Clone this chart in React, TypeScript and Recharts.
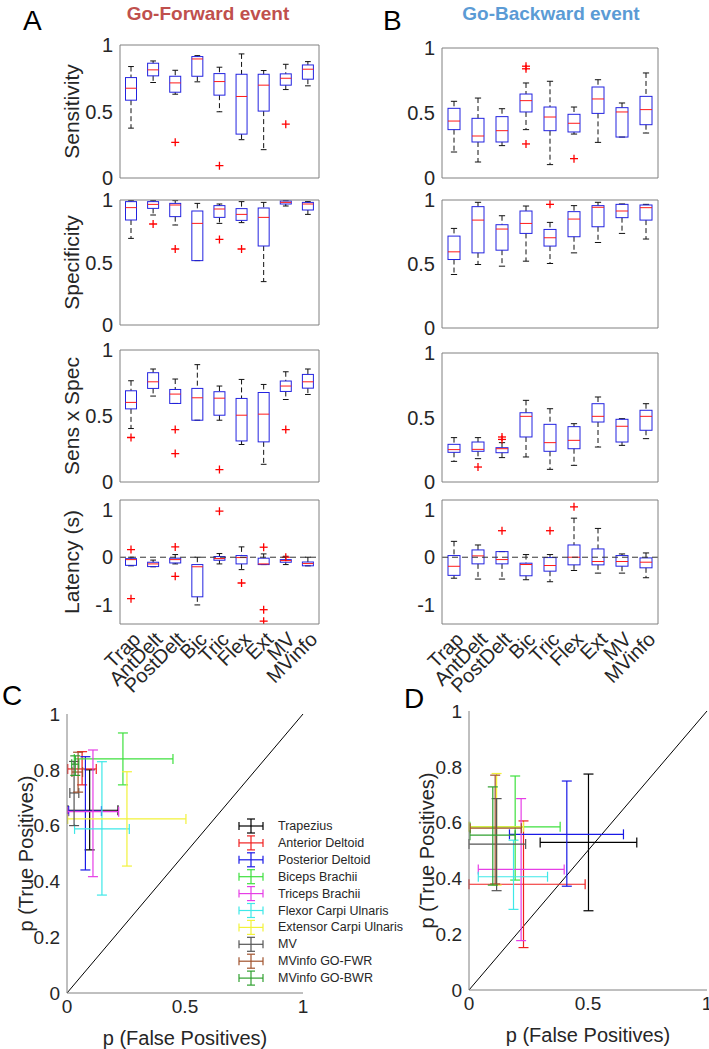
import {
  Bar,
  ComposedChart,
  ErrorBar,
  ReferenceLine,
  Scatter,
  ScatterChart,
  XAxis,
  YAxis,
} from "recharts";

const FONT = "'Liberation Sans', Arial, Helvetica, sans-serif";
const INK = "#262626";
const FRAME = "#808080";

const muscles = ["Trap", "AntDelt", "PostDelt", "Bic", "Tric", "Flex", "Ext", "MV", "MVinfo"];

// box stats per muscle: [min, q1, median, q3, max]
const fwdSensitivity = [
  [0.375, 0.585, 0.675, 0.755, 0.838],
  [0.718, 0.768, 0.813, 0.863, 0.88],
  [0.63, 0.645, 0.715, 0.765, 0.81],
  [0.723, 0.765, 0.895, 0.913, 0.92],
  [0.498, 0.623, 0.725, 0.785, 0.833],
  [0.288, 0.33, 0.613, 0.78, 0.933],
  [0.213, 0.503, 0.698, 0.78, 0.808],
  [0.665, 0.698, 0.75, 0.783, 0.855],
  [0.693, 0.743, 0.818, 0.85, 0.875],
];
const fwdSensitivityOut = [[], [], [0.268], [], [0.093], [], [], [0.405], []];

const fwdSpecificity = [
  [0.693, 0.84, 0.939, 0.987, 0.995],
  [0.88, 0.933, 0.965, 0.987, 0.995],
  [0.8, 0.867, 0.96, 0.973, 0.995],
  [0.515, 0.515, 0.813, 0.912, 0.973],
  [0.813, 0.861, 0.928, 0.955, 0.968],
  [0.819, 0.837, 0.885, 0.931, 0.987],
  [0.347, 0.632, 0.861, 0.936, 0.981],
  [0.952, 0.968, 0.981, 0.992, 0.995],
  [0.885, 0.92, 0.968, 0.981, 0.987],
];
const fwdSpecificityOut = [[], [0.808], [0.608], [], [0.685], [0.608], [], [], []];

const fwdSensSpec = [
  [0.405, 0.554, 0.603, 0.691, 0.767],
  [0.651, 0.709, 0.759, 0.828, 0.856],
  [0.595, 0.595, 0.666, 0.701, 0.78],
  [0.468, 0.468, 0.638, 0.709, 0.889],
  [0.468, 0.506, 0.635, 0.684, 0.727],
  [0.284, 0.311, 0.506, 0.633, 0.777],
  [0.134, 0.304, 0.514, 0.678, 0.739],
  [0.625, 0.686, 0.727, 0.765, 0.835],
  [0.663, 0.711, 0.759, 0.815, 0.856],
];
const fwdSensSpecOut = [[0.337], [], [0.397, 0.215], [], [0.094], [], [], [0.397], []];

const fwdLatency = [
  [-0.18, -0.17, -0.05, -0.03, 0.0],
  [-0.2, -0.196, -0.14, -0.105, -0.06],
  [-0.14, -0.12, -0.05, -0.02, 0.056],
  [-1.0, -0.83, -0.2, -0.154, 0.0],
  [-0.14, -0.063, -0.028, 0.014, 0.077],
  [-0.26, -0.14, -0.007, 0.035, 0.217],
  [-0.154, -0.154, -0.14, -0.02, 0.07],
  [-0.154, -0.105, -0.07, -0.05, 0.02],
  [-0.18, -0.18, -0.133, -0.1, 0.0],
];
const fwdLatencyOut = [[0.16, -0.87], [], [0.217, -0.4], [], [0.965], [-0.54], [0.21, -1.1, -1.34], [0.0], []];

const bwdSensitivity = [
  [0.2, 0.372, 0.438, 0.536, 0.59],
  [0.123, 0.277, 0.323, 0.459, 0.615],
  [0.249, 0.277, 0.364, 0.472, 0.533],
  [0.372, 0.508, 0.595, 0.646, 0.731],
  [0.103, 0.364, 0.469, 0.546, 0.744],
  [0.338, 0.354, 0.421, 0.49, 0.546],
  [0.274, 0.497, 0.608, 0.7, 0.756],
  [0.315, 0.315, 0.508, 0.541, 0.577],
  [0.346, 0.41, 0.526, 0.628, 0.808],
];
const bwdSensitivityOut = [[], [], [], [0.86, 0.84, 0.262], [], [0.149], [], [], []];

const bwdSpecificity = [
  [0.418, 0.535, 0.595, 0.718, 0.778],
  [0.496, 0.587, 0.843, 0.948, 0.982],
  [0.483, 0.608, 0.773, 0.807, 0.877],
  [0.522, 0.739, 0.817, 0.914, 0.953],
  [0.504, 0.64, 0.705, 0.77, 0.825],
  [0.587, 0.713, 0.851, 0.909, 0.956],
  [0.668, 0.791, 0.943, 0.956, 0.982],
  [0.739, 0.862, 0.914, 0.966, 0.969],
  [0.695, 0.843, 0.94, 0.961, 0.966],
];
const bwdSpecificityOut = [[], [], [], [], [0.966], [], [], [], []];

const bwdSensSpec = [
  [0.16, 0.23, 0.251, 0.292, 0.344],
  [0.181, 0.238, 0.253, 0.31, 0.344],
  [0.189, 0.227, 0.258, 0.266, 0.305],
  [0.194, 0.349, 0.509, 0.537, 0.633],
  [0.098, 0.238, 0.305, 0.447, 0.568],
  [0.129, 0.258, 0.323, 0.429, 0.452],
  [0.271, 0.465, 0.509, 0.607, 0.659],
  [0.284, 0.31, 0.432, 0.486, 0.491],
  [0.336, 0.401, 0.509, 0.556, 0.607],
];
const bwdSensSpecOut = [[], [0.116], [0.349, 0.33], [], [], [], [], [], []];

const bwdLatency = [
  [-0.44, -0.38, -0.19, 0.035, 0.333],
  [-0.458, -0.139, 0.028, 0.153, 0.257],
  [-0.458, -0.139, -0.049, 0.118, 0.118],
  [-0.472, -0.389, -0.153, -0.125, 0.056],
  [-0.514, -0.292, -0.174, -0.007, 0.056],
  [-0.278, -0.16, 0.0, 0.257, 0.819],
  [-0.333, -0.16, -0.09, 0.174, 0.604],
  [-0.333, -0.188, -0.09, 0.035, 0.069],
  [-0.43, -0.222, -0.104, -0.014, 0.09],
];
const bwdLatencyOut = [[], [], [0.556], [], [0.556], [1.056], [], [], []];

const UNIT_TICKS = [0, 0.5, 1];
const LAT_TICKS = [-1, 0, 1];

// ROC-style summary: [fp, fpLow, fpHigh, tp, tpLow, tpHigh]
const rocNames = [
  "Trapezius",
  "Anterior Deltoid",
  "Posterior Deltoid",
  "Biceps Brachii",
  "Triceps Brachii",
  "Flexor Carpi Ulnaris",
  "Extensor Carpi Ulnaris",
  "MV",
  "MVinfo GO-FWR",
  "MVinfo GO-BWR",
];
const rocColors = [
  "#000000", "#f02020", "#1a1ae6", "#3ee03e", "#e63ee6",
  "#3ee8e8", "#f2f23a", "#555555", "#a0522d", "#2fa02f",
];
const fwdRoc = [
  [0.096, 0.004, 0.216, 0.655, 0.513, 0.8],
  [0.064, 0.003, 0.124, 0.803, 0.746, 0.865],
  [0.078, 0.007, 0.146, 0.652, 0.441, 0.847],
  [0.237, 0.031, 0.449, 0.839, 0.746, 0.932],
  [0.11, 0.003, 0.219, 0.65, 0.417, 0.871],
  [0.148, 0.032, 0.264, 0.588, 0.351, 0.829],
  [0.254, 0.003, 0.504, 0.624, 0.455, 0.793],
  [0.03, 0.012, 0.05, 0.717, 0.6, 0.83],
  [0.047, 0.021, 0.066, 0.792, 0.72, 0.863],
  [0.035, 0.02, 0.05, 0.82, 0.78, 0.85],
];
const bwdRoc = [
  [0.502, 0.299, 0.705, 0.529, 0.284, 0.774],
  [0.229, 0.0, 0.488, 0.379, 0.152, 0.606],
  [0.411, 0.17, 0.649, 0.558, 0.372, 0.749],
  [0.194, 0.004, 0.383, 0.585, 0.394, 0.767],
  [0.219, 0.039, 0.4, 0.432, 0.177, 0.686],
  [0.187, 0.039, 0.33, 0.406, 0.289, 0.537],
  [0.116, 0.0, 0.229, 0.585, 0.376, 0.776],
  [0.116, 0.0, 0.238, 0.523, 0.356, 0.686],
  [0.11, 0.005, 0.22, 0.58, 0.38, 0.77],
  [0.1, 0.004, 0.194, 0.555, 0.376, 0.728],
];

interface BoxRow {
  name: string;
  min: number;
  q1: number;
  med: number;
  q3: number;
  max: number;
  out: number[];
  lo: number;
  hi: number;
}

function toRows(stats: number[][], outliers: number[][]): BoxRow[] {
  return muscles.map((name, i) => {
    const [min, q1, med, q3, max] = stats[i];
    const out = outliers[i];
    return { name, min, q1, med, q3, max, out, lo: Math.min(min, ...out), hi: Math.max(max, ...out) };
  });
}

// the bar spans lo..hi; everything inside is placed along that same linear span
function BoxShape(props: any) {
  const { x, y, width, height, payload } = props;
  if (!payload || width == null) return null;
  const top = Math.min(y, y + height);
  const bottom = Math.max(y, y + height);
  const span = payload.hi - payload.lo;
  const py = (v: number) => top + ((payload.hi - v) / span) * (bottom - top);
  const cx = x + width / 2;
  const half = width * 0.25;
  const cap = width * 0.13;
  return (
    <g>
      <line x1={cx} x2={cx} y1={py(payload.max)} y2={py(payload.q3)} stroke="#111" strokeDasharray="5 3" />
      <line x1={cx} x2={cx} y1={py(payload.q1)} y2={py(payload.min)} stroke="#111" strokeDasharray="5 3" />
      <line x1={cx - cap} x2={cx + cap} y1={py(payload.max)} y2={py(payload.max)} stroke="#111" />
      <line x1={cx - cap} x2={cx + cap} y1={py(payload.min)} y2={py(payload.min)} stroke="#111" />
      <rect
        x={cx - half}
        y={py(payload.q3)}
        width={half * 2}
        height={Math.max(py(payload.q1) - py(payload.q3), 0.5)}
        fill="none"
        stroke="#2323e0"
      />
      <line x1={cx - half} x2={cx + half} y1={py(payload.med)} y2={py(payload.med)} stroke="#ff1a1a" />
      {payload.out.map((v: number, k: number) => (
        <g key={k} stroke="#ff0000" strokeWidth={1.3}>
          <line x1={cx - 4} x2={cx + 4} y1={py(v)} y2={py(v)} />
          <line x1={cx} x2={cx} y1={py(v) - 4} y2={py(v) + 4} />
        </g>
      ))}
    </g>
  );
}

const yTitle = (text: string, cx: number, size: number) => (props: any) => {
  const vb = props.viewBox || {};
  const cy = vb.y + vb.height / 2;
  return (
    <text
      x={cx}
      y={cy}
      transform={`rotate(-90 ${cx} ${cy})`}
      textAnchor="middle"
      dominantBaseline="central"
      fontSize={size}
      fill={INK}
      fontFamily={FONT}
    >
      {text}
    </text>
  );
};

const xTitle = (text: string, baseline: number) => (props: any) => {
  const vb = props.viewBox || {};
  return (
    <text x={vb.x + vb.width / 2} y={baseline} textAnchor="middle" fontSize={20} fill={INK} fontFamily={FONT}>
      {text}
    </text>
  );
};

function CatTick(props: any) {
  const { x, y, payload } = props;
  return (
    <text
      x={x}
      y={y}
      transform={`rotate(-45 ${x} ${y})`}
      textAnchor="end"
      dy="0.75em"
      fontSize={20}
      fill={INK}
      fontFamily={FONT}
    >
      {payload.value}
    </text>
  );
}

interface Plot {
  x: number;
  y: number;
  w: number;
  h: number;
}

interface BoxPanelProps {
  rows: BoxRow[];
  plot: Plot;
  left: number;
  domain: [number, number];
  ticks: number[];
  title?: string;
  labels?: boolean;
  zeroLine?: boolean;
}

function BoxPanel({ rows, plot, left, domain, ticks, title, labels, zeroLine }: BoxPanelProps) {
  const axisW = plot.x - left;
  const padT = 10;
  const padR = 12;
  const axisH = labels ? 90 : 14;
  return (
    <div style={{ position: "absolute", left, top: plot.y - padT }}>
      <ComposedChart
        width={axisW + plot.w + padR}
        height={padT + plot.h + axisH}
        data={rows}
        margin={{ top: padT - 1, right: padR - 1, bottom: 0, left: 0 }}
        barCategoryGap="0%"
      >
        <XAxis
          dataKey="name"
          height={axisH}
          stroke={FRAME}
          axisLine
          tickLine={false}
          tickSize={0}
          tickMargin={6}
          interval={0}
          tick={labels ? <CatTick /> : { fontSize: 1, fill: "none" }}
        />
        <XAxis
          xAxisId="top"
          dataKey="name"
          orientation="top"
          height={1}
          stroke={FRAME}
          axisLine
          tickLine={false}
          tickSize={0}
          tick={{ fontSize: 1, fill: "none" }}
        />
        <YAxis
          width={axisW}
          domain={domain}
          ticks={ticks}
          interval={0}
          allowDataOverflow
          stroke={FRAME}
          axisLine
          tickLine={false}
          tickSize={0}
          tickMargin={7}
          tick={{ fontSize: 20, fill: INK, fontFamily: FONT }}
          label={title ? { content: yTitle(title, 71, 21) } : undefined}
        />
        <YAxis
          yAxisId="right"
          orientation="right"
          width={1}
          domain={domain}
          ticks={ticks}
          interval={0}
          stroke={FRAME}
          axisLine
          tickLine={false}
          tickSize={0}
          tick={{ fontSize: 1, fill: "none" }}
        />
        {zeroLine && <ReferenceLine y={0} stroke="#333" strokeDasharray="6 4" />}
        <Bar dataKey={(d: BoxRow) => [d.lo, d.hi]} shape={<BoxShape />} isAnimationActive={false} />
      </ComposedChart>
    </div>
  );
}

interface RocPanelProps {
  points: number[][];
  plot: Plot;
  left: number;
  padR: number;
  titleX: number;
}

function RocPanel({ points, plot, left, padR, titleX }: RocPanelProps) {
  const axisW = plot.x - left;
  const padT = 20;
  const axisH = 57;
  return (
    <div style={{ position: "absolute", left, top: plot.y - padT }}>
      <ScatterChart
        width={axisW + plot.w + padR}
        height={padT + plot.h + axisH}
        margin={{ top: padT, right: padR, bottom: 0, left: 0 }}
      >
        <XAxis
          type="number"
          dataKey="x"
          domain={[0, 1]}
          ticks={[0, 0.5, 1]}
          interval={0}
          allowDataOverflow
          height={axisH}
          stroke={FRAME}
          axisLine
          tickLine={false}
          tickSize={0}
          tickMargin={7}
          tick={{ fontSize: 19, fill: INK, fontFamily: FONT }}
          label={{ content: xTitle("p (False Positives)", padT + plot.h + 52) }}
        />
        <YAxis
          type="number"
          dataKey="y"
          domain={[0, 1]}
          ticks={[0, 0.2, 0.4, 0.6, 0.8, 1]}
          interval={0}
          allowDataOverflow
          width={axisW}
          stroke={FRAME}
          axisLine
          tickLine={false}
          tickSize={0}
          tickMargin={7}
          tick={{ fontSize: 19, fill: INK, fontFamily: FONT }}
          label={{ content: yTitle("p (True Positives)", titleX, 20) }}
        />
        <ReferenceLine segment={[{ x: 0, y: 0 }, { x: 1, y: 1 }]} stroke="#000" ifOverflow="visible" />
        {rocNames.map((name, i) => {
          const [x, xl, xh, y, yl, yh] = points[i];
          return (
            <Scatter
              key={name}
              name={name}
              data={[{ x, y, ex: [x - xl, xh - x], ey: [y - yl, yh - y] }]}
              shape={() => <g />}
              isAnimationActive={false}
            >
              <ErrorBar dataKey="ex" direction="x" stroke={rocColors[i]} width={5} strokeWidth={1.2} />
              <ErrorBar dataKey="ey" direction="y" stroke={rocColors[i]} width={5} strokeWidth={1.2} />
            </Scatter>
          );
        })}
      </ScatterChart>
    </div>
  );
}

export default function App() {
  return (
    <div
      style={{
        position: "absolute",
        left: 0,
        top: 0,
        width: 709,
        height: 1049,
        background: "#fff",
        overflow: "hidden",
        fontFamily: FONT,
      }}
    >
      <BoxPanel rows={toRows(fwdSensitivity, fwdSensitivityOut)} plot={{ x: 120, y: 45, w: 199, h: 133 }} left={0} domain={[0, 1]} ticks={UNIT_TICKS} title="Sensitivity" />
      <BoxPanel rows={toRows(fwdSpecificity, fwdSpecificityOut)} plot={{ x: 120, y: 200, w: 199, h: 125 }} left={0} domain={[0, 1]} ticks={UNIT_TICKS} title="Specificity" />
      <BoxPanel rows={toRows(fwdSensSpec, fwdSensSpecOut)} plot={{ x: 120, y: 350, w: 199, h: 132 }} left={0} domain={[0, 1]} ticks={UNIT_TICKS} title="Sens x Spec" />
      <BoxPanel rows={toRows(fwdLatency, fwdLatencyOut)} plot={{ x: 120, y: 500, w: 199, h: 124 }} left={0} domain={[-1.4, 1.2]} ticks={LAT_TICKS} title="Latency (s)" labels zeroLine />

      <BoxPanel rows={toRows(bwdSensitivity, bwdSensitivityOut)} plot={{ x: 442, y: 48, w: 216, h: 130 }} left={380} domain={[0, 1]} ticks={UNIT_TICKS} />
      <BoxPanel rows={toRows(bwdSpecificity, bwdSpecificityOut)} plot={{ x: 442, y: 200, w: 216, h: 128 }} left={380} domain={[0, 1]} ticks={UNIT_TICKS} />
      <BoxPanel rows={toRows(bwdSensSpec, bwdSensSpecOut)} plot={{ x: 442, y: 353, w: 216, h: 129 }} left={380} domain={[0, 1]} ticks={UNIT_TICKS} />
      <BoxPanel rows={toRows(bwdLatency, bwdLatencyOut)} plot={{ x: 442, y: 500, w: 216, h: 124 }} left={380} domain={[-1.4, 1.2]} ticks={LAT_TICKS} labels zeroLine />

      <RocPanel points={fwdRoc} plot={{ x: 67, y: 714, w: 236, h: 279 }} left={0} padR={20} titleX={26} />
      <RocPanel points={bwdRoc} plot={{ x: 469, y: 711, w: 238, h: 279 }} left={380} padR={2} titleX={47} />

      <svg
        width={709}
        height={1049}
        style={{ position: "absolute", left: 0, top: 0, pointerEvents: "none" }}
        fontFamily={FONT}
      >
        <text x={208} y={20} textAnchor="middle" fontSize={19} fontWeight="bold" fill="#c0504d">
          Go-Forward event
        </text>
        <text x={551} y={20} textAnchor="middle" fontSize={19} fontWeight="bold" fill="#5b9bd5">
          Go-Backward event
        </text>
        <text x={23} y={30} fontSize={28} fill="#000">A</text>
        <text x={383} y={30} fontSize={28} fill="#000">B</text>
        <text x={2} y={705} fontSize={28} fill="#000">C</text>
        <text x={404} y={708} fontSize={28} fill="#000">D</text>
        {rocNames.map((name, i) => {
          const cy = 826 + i * 16.9;
          const c = rocColors[i];
          return (
            <g key={name}>
              <g stroke={c} strokeWidth={1.2}>
                <line x1={239} x2={263} y1={cy} y2={cy} />
                <line x1={239} x2={239} y1={cy - 4} y2={cy + 4} />
                <line x1={263} x2={263} y1={cy - 4} y2={cy + 4} />
                <line x1={251} x2={251} y1={cy - 7} y2={cy + 7} />
                <line x1={247} x2={255} y1={cy - 7} y2={cy - 7} />
                <line x1={247} x2={255} y1={cy + 7} y2={cy + 7} />
              </g>
              <text x={278} y={cy} dominantBaseline="central" fontSize={12.5} fill={INK}>
                {name}
              </text>
            </g>
          );
        })}
      </svg>
    </div>
  );
}
